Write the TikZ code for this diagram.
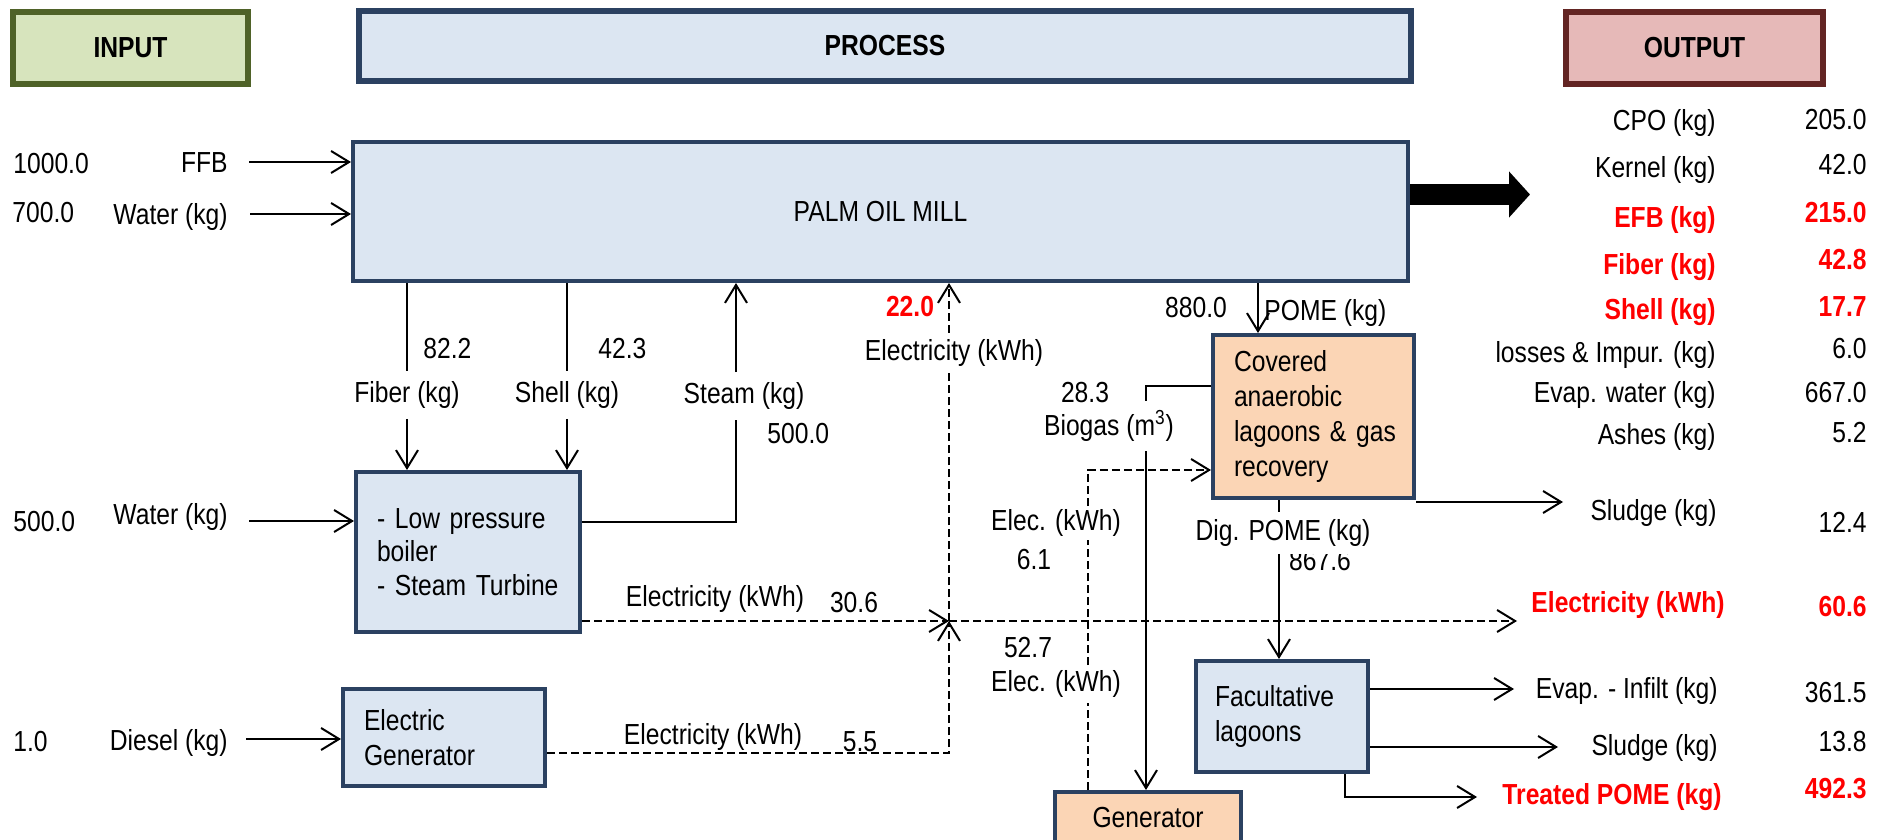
\documentclass[tikz,border=0pt]{standalone}
\usepackage{fontspec}
\setmainfont{Liberation Sans}[FakeStretch=0.85]
\usetikzlibrary{arrows.meta}
\definecolor{navyline}{HTML}{2B4161}
\definecolor{procfill}{HTML}{DCE6F2}
\definecolor{peachfill}{HTML}{FBD5B5}
\definecolor{infill}{HTML}{D7E4BD}
\definecolor{inborder}{HTML}{4F6228}
\definecolor{outfill}{HTML}{E6B9B8}
\definecolor{outborder}{HTML}{632523}
\definecolor{hotred}{HTML}{FF0000}
\newcommand\diagfont{\fontsize{14.5pt}{17.5pt}\selectfont}
\begin{document}
\begin{tikzpicture}[x=0.5pt,y=-0.5pt,
  every node/.style={font=\diagfont,inner sep=0pt},
  header/.style={line width=3pt,font=\diagfont\bfseries,minimum height=36pt},
  unit/.style={draw=navyline,line width=2pt,fill=procfill,align=left,inner xsep=10.5pt},
  flow/.style={line width=1pt},
  arr/.style={-{Straight Barb[length=9pt,width=11pt]}},
  dsh/.style={dash pattern=on 4pt off 2pt},
  gap/.style={inner xsep=2pt,inner ysep=#1},
  rbold/.style={text=hotred,font=\diagfont\bfseries}]

\path[use as bounding box,clip] (0,0) rectangle (1887,840);

% column headers
\node[header,draw=inborder,fill=infill,minimum width=117.5pt] (hin) at (130.5,48) {INPUT};
\node[header,draw=navyline,fill=procfill,minimum width=526pt,minimum height=35pt] (hproc) at (885,46) {PROCESS};
\node[header,draw=outborder,fill=outfill,minimum width=128.5pt] (hout) at (1694.5,48) {OUTPUT};

% process units
\node[unit,align=center,inner xsep=0pt,minimum width=527.5pt,minimum height=69.5pt] (palm) at (880.5,211.5) {PALM OIL MILL};
\node[unit,text width=91pt,minimum height=80pt,font=\fontsize{14.5pt}{16.75pt}\selectfont] (boiler) at (468,552) {- Low pressure\\boiler\\- Steam Turbine};
\node[unit,text width=80pt,minimum height=48.5pt] (egen) at (444,737.5) {Electric\\Generator};
\node[unit,fill=peachfill,text width=79.5pt,minimum height=81.5pt] (anaer) at (1313.5,416.5) {Covered\\anaerobic\\\mbox{lagoons \& gas}\\recovery};
\node[unit,text width=67pt,inner xsep=9.5pt,minimum height=55.5pt] (facul) at (1282,716.5) {Facultative\\lagoons};
\node[unit,fill=peachfill,align=center,minimum width=93pt,minimum height=26pt] (gen) at (1148,818) {Generator};

% inputs
\node[anchor=west] (vffb) at (13,164) {1000.0};
\node[anchor=east] (lffb) at (228,163) {FFB};
\coordinate (ffbS) at (249,162);
\draw[flow,arr] (ffbS) -- (ffbS -| palm.west);

\node[anchor=west] (vwat) at (12,213) {700.0};
\node[anchor=east] (lwat) at (228,217) {Water (kg)};
\coordinate (watS) at (250,214);
\draw[flow,arr] (watS) -- (watS -| palm.west);

\node[anchor=west] (vbw) at (13,522) {500.0};
\node[anchor=east] (lbw) at (228,517) {Water (kg)};
\coordinate (bwS) at (249,521);
\draw[flow,arr] (bwS) -- (bwS -| boiler.west);

\node[anchor=west] (vdie) at (13,742) {1.0};
\node[anchor=east] (ldie) at (228,743) {Diesel (kg)};
\coordinate (dieS) at (246,739);
\draw[flow,arr] (dieS) -- (dieS -| egen.west);

% fiber, shell and steam between mill and boiler
\node[gap=5pt] (lfib) at (407,395) {Fiber (kg)};
\node[anchor=west] (vfib) at (423,349) {82.2};
\draw[flow] (lfib.north |- palm.south) -- (lfib.north);
\draw[flow,arr] (lfib.south) -- (lfib.south |- boiler.north);

\node[gap=5pt] (lshe) at (567,395) {Shell (kg)};
\node[anchor=west] (vshe) at (598,349) {42.3};
\draw[flow] (lshe.north |- palm.south) -- (lshe.north);
\draw[flow,arr] (lshe.south) -- (lshe.south |- boiler.north);

\coordinate (stbend) at (736,522);
\node[gap=5pt] (lste) at (744,396) {Steam (kg)};
\node[anchor=west] (vste) at (767,434) {500.0};
\draw[flow] (boiler.east |- stbend) -- (stbend) -- (stbend |- lste.south);
\draw[flow,arr] (stbend |- lste.north) -- (stbend |- palm.south);

% electricity network
\coordinate (J) at (949,621);
\coordinate (ejoin) at (949,753);
\coordinate (elout) at (1517,621);
\node (lel1) at (715,599) {Electricity (kWh)};
\node (vel1) at (854,603) {30.6};
\node (lel2) at (713,737) {Electricity (kWh)};
\node (vel2) at (860,742) {5.5};
\draw[flow,dsh,arr] (boiler.east |- J) -- (J);
\draw[flow,dsh,arr] (egen.east |- ejoin) -- (ejoin) -- (J);

\node[gap=3.2pt] (lelup) at (954,353) {Electricity (kWh)};
\node[rbold] (velup) at (910,307) {22.0};
\draw[flow,dsh] (J) -- (J |- lelup.south);
\draw[flow,dsh,arr] (J |- lelup.north) -- (J |- palm.south);
\draw[flow,dsh,arr] (J) -- (elout);

% generator electricity to the lagoons
\coordinate (ecorner) at (1088,470);
\node[gap=1.5pt] (lelA) at (1056,523) {Elec. (kWh)};
\node (velA) at (1034,560) {6.1};
\node (velB) at (1028,648) {52.7};
\node[gap=2.5pt] (lelB) at (1056,684) {Elec. (kWh)};
\draw[flow,dsh] (ecorner |- gen.north) -- (ecorner |- lelB.south);
\draw[flow,dsh] (ecorner |- lelB.north) -- (ecorner |- lelA.south);
\draw[flow,dsh,arr] (ecorner |- lelA.north) -- (ecorner) -- (ecorner -| anaer.west);

% biogas to generator
\coordinate (bcorner) at (1146,386);
\node[gap=4.7pt] (lbio) at (1109,426) {Biogas (m\textsuperscript{3})};
\node (vbio) at (1085,393) {28.3};
\draw[flow] (anaer.west |- bcorner) -- (bcorner) -- (bcorner |- lbio.north);
\draw[flow,arr] (bcorner |- lbio.south) -- (bcorner |- gen.north);

% POME line
\coordinate (pomex) at (1258,300);
\node (vpome) at (1196,308) {880.0};
\node[anchor=west] (lpome) at (1264,313) {POME (kg)};
\draw[flow,arr] (pomex |- palm.south) -- (pomex |- anaer.north);

\coordinate (digx) at (1279,600);
\node (vdig) at (1320,561) {867.6};
\node[gap=3.5pt,fill=white] (ldig) at (1283,533) {Dig. POME (kg)};
\draw[flow] (digx |- anaer.south) -- (digx |- ldig.north);
\draw[flow,arr] (digx |- ldig.south) -- (digx |- facul.north);

% lagoon outlets
\coordinate (sl1) at (1563,502);
\draw[flow,arr] (anaer.south east |- sl1) -- (sl1);
\coordinate (evp) at (1514,689);
\draw[flow,arr] (facul.east |- evp) -- (evp);
\coordinate (sl2) at (1558,747);
\draw[flow,arr] (facul.east |- sl2) -- (sl2);
\coordinate (trd) at (1477,797);
\coordinate (trdx) at (1345,797);
\draw[flow,arr] (trdx |- facul.south) -- (trdx) -- (trd);

% main product arrow
\coordinate (bigtip) at (1530,194.5);
\draw[line width=10.5pt,-{Triangle[length=10.5pt,width=22.5pt]}] (palm.east |- bigtip) -- (bigtip);

% output list
\node[anchor=east] (o1) at (1716,123) {CPO (kg)};
\node[anchor=east] (n1) at (1867,120) {205.0};
\node[anchor=east] (o2) at (1716,170) {Kernel (kg)};
\node[anchor=east] (n2) at (1867,165) {42.0};
\node[anchor=east,rbold] (o3) at (1716,220) {EFB (kg)};
\node[anchor=east,rbold] (n3) at (1867,213) {215.0};
\node[anchor=east,rbold] (o4) at (1716,267) {Fiber (kg)};
\node[anchor=east,rbold] (n4) at (1867,260) {42.8};
\node[anchor=east,rbold] (o5) at (1716,312) {Shell (kg)};
\node[anchor=east,rbold] (n5) at (1867,307) {17.7};
\node[anchor=east] (o6) at (1716,355) {losses \& Impur. (kg)};
\node[anchor=east] (n6) at (1867,349) {6.0};
\node[anchor=east] (o7) at (1716,395) {Evap. water (kg)};
\node[anchor=east] (n7) at (1867,393) {667.0};
\node[anchor=east] (o8) at (1716,437) {Ashes (kg)};
\node[anchor=east] (n8) at (1867,433) {5.2};
\node[anchor=east] (o9) at (1717,513) {Sludge (kg)};
\node[anchor=east] (n9) at (1867,522) {12.4};
\node[anchor=east,rbold] (o10) at (1725,605) {Electricity (kWh)};
\node[anchor=east,rbold] (n10) at (1867,607) {60.6};
\node[anchor=east] (o11) at (1718,691) {Evap. - Infilt (kg)};
\node[anchor=east] (n11) at (1867,693) {361.5};
\node[anchor=east] (o12) at (1718,748) {Sludge (kg)};
\node[anchor=east] (n12) at (1867,742) {13.8};
\node[anchor=east,rbold] (o13) at (1722,797) {Treated POME (kg)};
\node[anchor=east,rbold] (n13) at (1867,789) {492.3};
\end{tikzpicture}
\end{document}
